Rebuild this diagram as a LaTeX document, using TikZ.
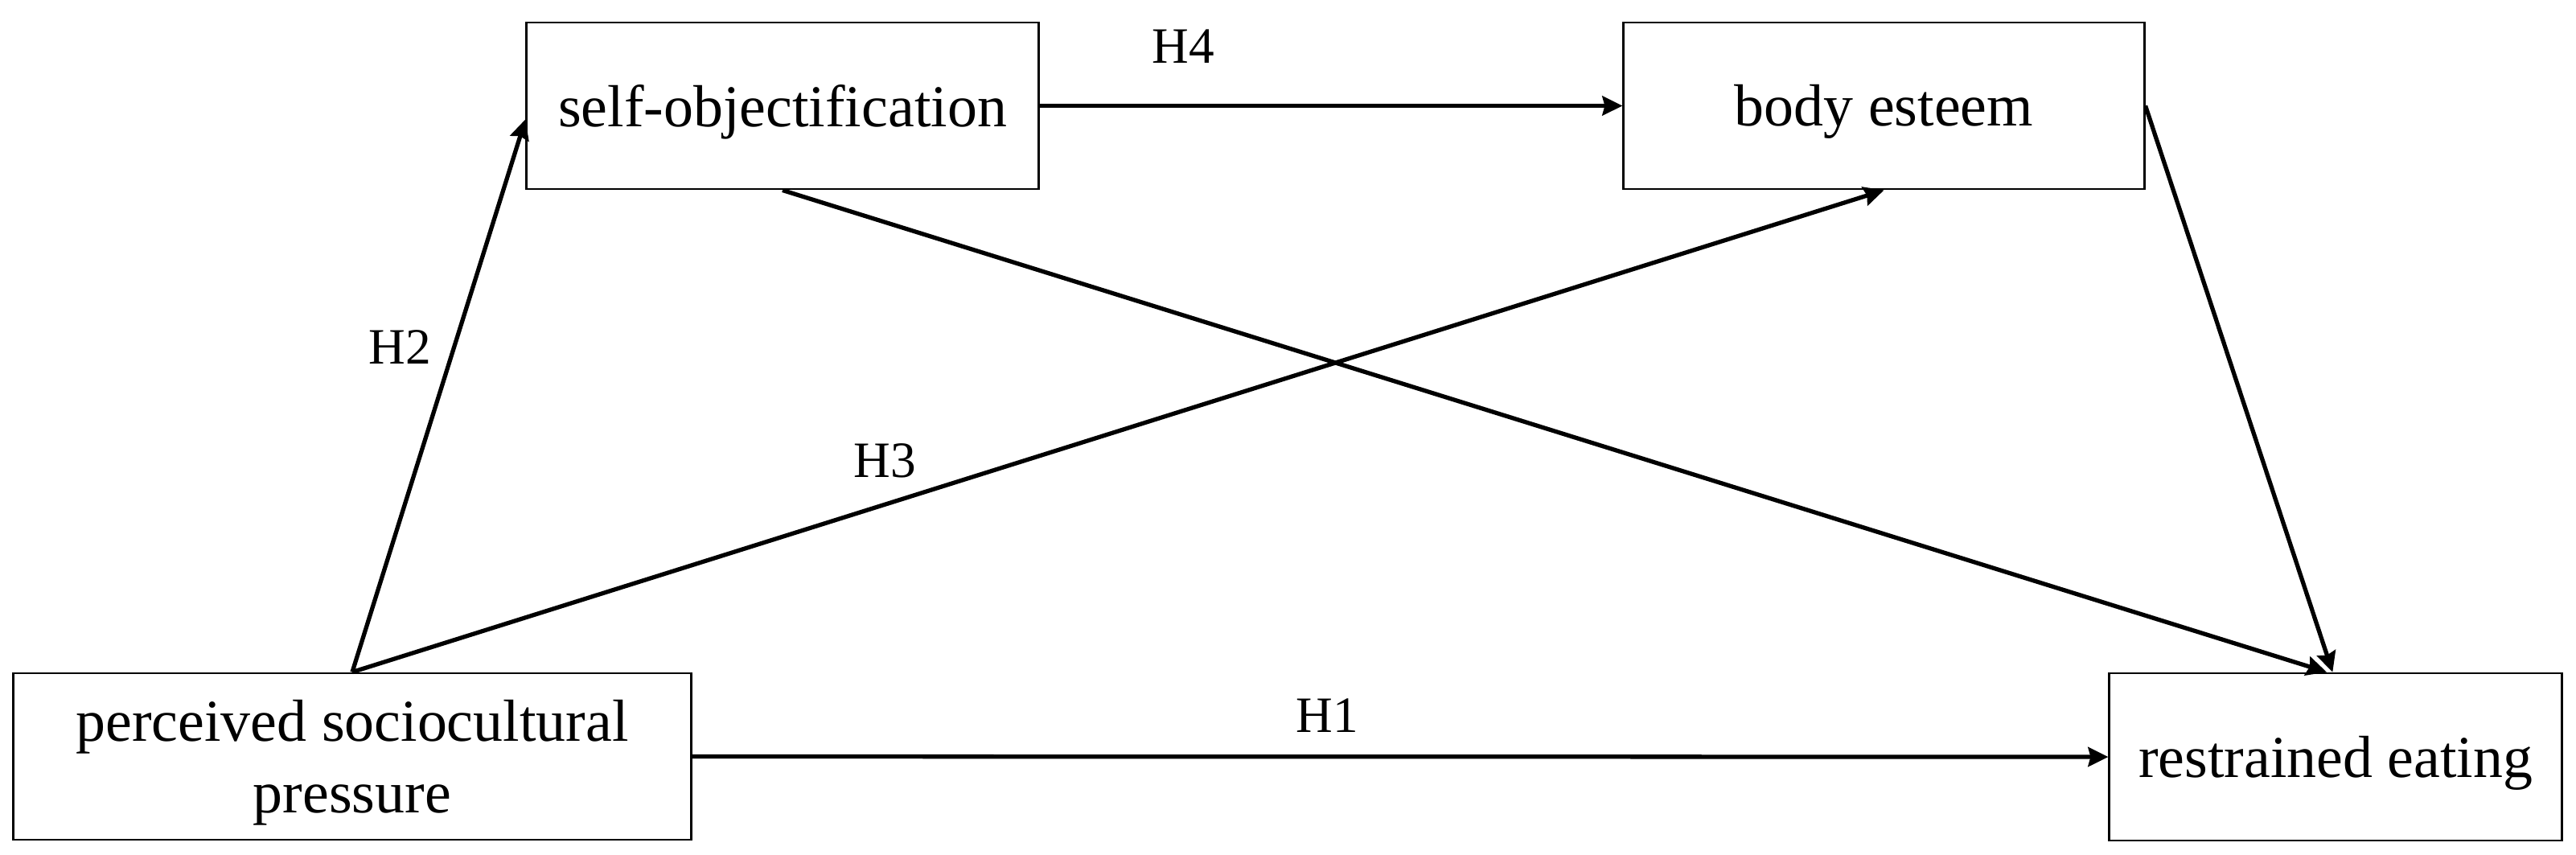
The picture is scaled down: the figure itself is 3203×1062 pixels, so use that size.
\documentclass[tikz,border=0pt]{standalone}
\usepackage{fontspec}
\setmainfont{Liberation Serif}
\usetikzlibrary{arrows.meta}
\newcommand\lowtxt[1]{\raisebox{-0.075cm}[\height][\depth]{#1}}
\begin{document}
\begin{tikzpicture}[x=0.01cm,y=-0.01cm,
  box/.style={draw=black,line width=0.8pt,inner sep=0pt,align=center,
    font=\fontsize{21}{25.3}\selectfont},
  conn/.style={line width=1.5pt,-{Stealth[length=0.25cm,width=0.24cm,inset=0.03cm]}},
  lab/.style={font=\fontsize{18}{21}\selectfont,inner sep=0pt}]
\useasboundingbox (0,0) rectangle (3203,1062);
\node[box,minimum width=6.36cm,minimum height=2.07cm] (so) at (973,131.5) {\lowtxt{self-objectification}};
\node[box,minimum width=6.47cm,minimum height=2.07cm] (be) at (2342.5,131.5) {\lowtxt{body esteem}};
\node[box,minimum width=8.42cm,minimum height=2.07cm] (psp) at (438,940.5) {\lowtxt{perceived sociocultural}\\\lowtxt{pressure}};
\node[box,minimum width=5.62cm,minimum height=2.08cm] (re) at (2904,941) {\lowtxt{restrained eating}};
\draw[conn] (psp.north) -- (so.183);
\draw[conn] (psp.north) -- (be.south);
\draw[conn] (so.east) -- (be.west);
\draw[conn] (so.south) -- (re.96);
\draw[conn] (be.east) -- (re.92);
\draw[conn] (psp.east) -- (re.west);
\node[lab] (h1) at (1650,890) {H1};
\node[lab] (h2) at (497,432) {H2};
\node[lab] (h3) at (1100,573) {H3};
\node[lab] (h4) at (1471,58) {H4};
\end{tikzpicture}
\end{document}
